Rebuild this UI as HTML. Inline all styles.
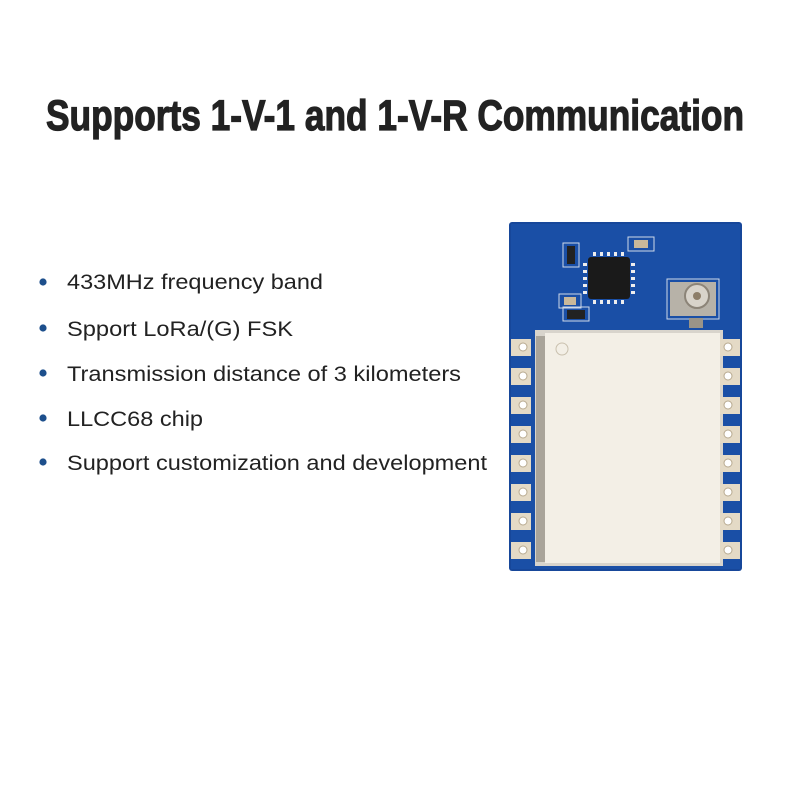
<!DOCTYPE html>
<html><head><style>
html,body{margin:0;padding:0;background:#fff;}
svg{display:block}
</style></head><body>
<svg width="800" height="800" viewBox="0 0 800 800" xmlns="http://www.w3.org/2000/svg">
<rect width="800" height="800" fill="#fff"/>
<text x="46" y="130" font-family="Liberation Sans, sans-serif" font-weight="bold" font-size="43" fill="#222" stroke="#222" stroke-width="1.2" textLength="698" lengthAdjust="spacingAndGlyphs">Supports 1-V-1 and 1-V-R Communication</text>
<g font-family="Liberation Sans, sans-serif" font-size="21" fill="#222">
<circle cx="43" cy="282" r="3.6" fill="#1d4f8c"/>
<text x="67" y="289" textLength="256" lengthAdjust="spacingAndGlyphs">433MHz frequency band</text>
<circle cx="43" cy="328" r="3.6" fill="#1d4f8c"/>
<text x="67" y="336" textLength="226" lengthAdjust="spacingAndGlyphs">Spport LoRa/(G) FSK</text>
<circle cx="43" cy="373" r="3.6" fill="#1d4f8c"/>
<text x="67" y="381" textLength="394" lengthAdjust="spacingAndGlyphs">Transmission distance of 3 kilometers</text>
<circle cx="43" cy="418" r="3.6" fill="#1d4f8c"/>
<text x="67" y="426" textLength="136" lengthAdjust="spacingAndGlyphs">LLCC68 chip</text>
<circle cx="43" cy="462" r="3.6" fill="#1d4f8c"/>
<text x="67" y="470" textLength="420" lengthAdjust="spacingAndGlyphs">Support customization and development</text>
</g>
<rect x="509" y="222" width="233" height="349" rx="3" fill="#17479a"/>
<rect x="511" y="224" width="229" height="345" fill="#1a4fa6"/>
<rect x="588" y="257" width="42" height="42" rx="3" fill="#1a1a1a"/>
<g fill="#eee">
<rect x="593" y="252" width="3" height="4"/><rect x="600" y="252" width="3" height="4"/><rect x="607" y="252" width="3" height="4"/><rect x="614" y="252" width="3" height="4"/><rect x="621" y="252" width="3" height="4"/>
<rect x="593" y="300" width="3" height="4"/><rect x="600" y="300" width="3" height="4"/><rect x="607" y="300" width="3" height="4"/><rect x="614" y="300" width="3" height="4"/><rect x="621" y="300" width="3" height="4"/>
<rect x="583" y="263" width="4" height="3"/><rect x="583" y="270" width="4" height="3"/><rect x="583" y="277" width="4" height="3"/><rect x="583" y="284" width="4" height="3"/><rect x="583" y="291" width="4" height="3"/>
<rect x="631" y="263" width="4" height="3"/><rect x="631" y="270" width="4" height="3"/><rect x="631" y="277" width="4" height="3"/><rect x="631" y="284" width="4" height="3"/><rect x="631" y="291" width="4" height="3"/>
</g>
<rect x="563" y="243" width="16" height="24" fill="none" stroke="#cfd8e8" stroke-width="1"/>
<rect x="567" y="246" width="8" height="18" fill="#222"/>
<rect x="628" y="237" width="26" height="14" fill="none" stroke="#cfd8e8"/>
<rect x="634" y="240" width="14" height="8" fill="#c9b89a"/>
<rect x="559" y="294" width="22" height="14" fill="none" stroke="#cfd8e8"/>
<rect x="564" y="297" width="12" height="8" fill="#c9b89a"/>
<rect x="563" y="307" width="26" height="14" fill="none" stroke="#cfd8e8"/>
<rect x="567" y="310" width="18" height="9" fill="#222"/>
<rect x="667" y="279" width="52" height="40" fill="none" stroke="#cfd8e8"/>
<rect x="670" y="282" width="46" height="34" fill="#b7b2a8"/>
<circle cx="697" cy="296" r="12" fill="#d8d3ca" stroke="#8c8478" stroke-width="2"/>
<circle cx="697" cy="296" r="4" fill="#8c7d68"/>
<rect x="689" y="318" width="14" height="10" fill="#9a9488"/>
<rect x="535" y="330" width="188" height="236" fill="#d8d4cc"/>
<rect x="536" y="336" width="9" height="226" fill="#a9a49a"/>
<rect x="545" y="333" width="175" height="230" fill="#f3efe6"/>
<circle cx="562" cy="349" r="6" fill="none" stroke="#c9c0ae" stroke-width="1"/>
<g fill="#e4dac6">
<rect x="511" y="339" width="20" height="17"/><rect x="511" y="368" width="20" height="17"/><rect x="511" y="397" width="20" height="17"/><rect x="511" y="426" width="20" height="17"/><rect x="511" y="455" width="20" height="17"/><rect x="511" y="484" width="20" height="17"/><rect x="511" y="513" width="20" height="17"/><rect x="511" y="542" width="20" height="17"/>
<rect x="720" y="339" width="20" height="17"/><rect x="720" y="368" width="20" height="17"/><rect x="720" y="397" width="20" height="17"/><rect x="720" y="426" width="20" height="17"/><rect x="720" y="455" width="20" height="17"/><rect x="720" y="484" width="20" height="17"/><rect x="720" y="513" width="20" height="17"/><rect x="720" y="542" width="20" height="17"/>
</g>
<g fill="#fff" stroke="#b8aa90" stroke-width="1">
<circle cx="523" cy="347" r="4"/><circle cx="523" cy="376" r="4"/><circle cx="523" cy="405" r="4"/><circle cx="523" cy="434" r="4"/><circle cx="523" cy="463" r="4"/><circle cx="523" cy="492" r="4"/><circle cx="523" cy="521" r="4"/><circle cx="523" cy="550" r="4"/>
<circle cx="728" cy="347" r="4"/><circle cx="728" cy="376" r="4"/><circle cx="728" cy="405" r="4"/><circle cx="728" cy="434" r="4"/><circle cx="728" cy="463" r="4"/><circle cx="728" cy="492" r="4"/><circle cx="728" cy="521" r="4"/><circle cx="728" cy="550" r="4"/>
</g>
</svg>
</body></html>
